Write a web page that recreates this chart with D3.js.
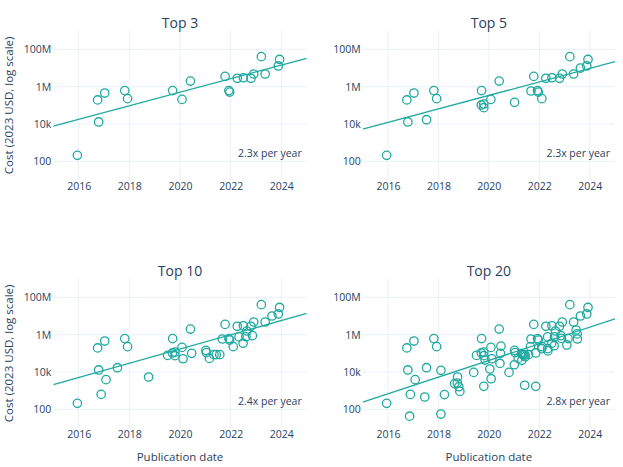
<!DOCTYPE html>
<html>
<head>
<meta charset="utf-8">
<script src="https://cdn.jsdelivr.net/npm/d3@7/dist/d3.min.js"></script>
<style>
  html, body { margin: 0; padding: 0; background: #fff; }
  svg { display: block; font-family: "Open Sans", "Noto Sans", sans-serif; }
</style>
</head>
<body>
<svg id="chart" width="623" height="467"></svg>
<script>
// ---- Data (publication year as decimal, cost in 2023 USD) ----
const panelTitles = ["Top 3", "Top 5", "Top 10", "Top 20"];
const growthLabels = ["2.3x per year", "2.3x per year", "2.4x per year", "2.8x per year"];

const top3 = [
  [2015.95, 210], [2016.75, 195000], [2016.79, 12900], [2017.03, 457000],
  [2017.82, 617000], [2017.93, 229000], [2019.71, 617000], [2020.08, 209000],
  [2020.41, 2000000], [2021.78, 3550000], [2021.93, 617000], [2021.96, 513000],
  [2022.26, 2820000], [2022.50, 3020000], [2022.80, 2820000], [2022.91, 4790000],
  [2023.21, 40700000], [2023.36, 4790000], [2023.88, 12900000], [2023.93, 28800000]
];
const top5Extra = [
  [2017.53, 17000], [2019.70, 105000], [2019.80, 117000], [2019.80, 75000],
  [2021.02, 145000], [2021.67, 589000], [2022.10, 229000], [2023.63, 10000000]
];
const top10Extra = [
  [2016.89, 630], [2017.08, 3900], [2018.76, 5400], [2019.51, 77600],
  [2020.12, 51300], [2020.46, 100000], [2021.04, 110000], [2021.16, 53700],
  [2021.34, 85000], [2021.43, 85000], [2021.57, 85000], [2022.33, 759000],
  [2022.49, 347000], [2022.60, 776000], [2022.64, 1580000], [2022.86, 891000]
];
const top20Extra = [
  [2016.86, 43], [2017.46, 457], [2018.10, 12300], [2018.10, 56],
  [2018.24, 617], [2018.64, 2400], [2018.75, 2570], [2018.81, 1620],
  [2018.85, 912], [2019.40, 9550], [2019.80, 1700], [2019.85, 43700],
  [2020.04, 14500], [2020.09, 4370], [2020.48, 245000], [2020.44, 28800],
  [2020.80, 9550], [2021.01, 24500], [2021.30, 95500], [2021.31, 42700],
  [2021.38, 81300], [2021.44, 66100], [2021.42, 1950], [2021.65, 229000],
  [2021.86, 105000], [2021.86, 1700], [2022.10, 178000], [2022.33, 178000],
  [2022.34, 135000], [2022.59, 257000], [2022.88, 631000], [2023.09, 282000],
  [2023.14, 617000], [2023.46, 1780000], [2023.50, 1100000], [2023.51, 589000]
];
const top5 = top3.concat(top5Extra);
const top10 = top5.concat(top10Extra);
const top20 = top10.concat(top20Extra);
const panelData = [top3, top5, top10, top20];

// Trend lines: cost at start (2015) and end (2025) of x range
const fitYears = [2015, 2025];
const fitStart = [7800, 5250, 2140, 245];
const fitEnd = [33100000, 21900000, 13800000, 7080000];

const xTicks = [2016, 2018, 2020, 2022, 2024];
const yTicks = [100, 10000, 1000000, 100000000];
const yTickLabels = ["100", "10k", "1M", "100M"];
const xDomain = [2015, 2025];
const yDomain = [10, 1e9];
const growthLabelY = 290;

// ---- Layout ----
const svg = d3.select("#chart");
const color = "#1fa9a0";
const textColor = "#2a3f5f";
const gridColor = "#ebf0f8";
const cols = [[53.3, 306.7], [362.7, 615]];
const rows = [[30.7, 180], [278.7, 428]];
const fontFam = '"Open Sans", sans-serif';

panelData.forEach((data, i) => {
  const c = cols[i % 2], r = rows[Math.floor(i / 2)];
  const x = d3.scaleLinear().domain(xDomain).range(c);
  const y = d3.scaleLog().domain(yDomain).range([r[1], r[0]]);
  const g = svg.append("g");

  // grid
  g.selectAll(".gx").data(xTicks).enter().append("line")
    .attr("x1", d => x(d)).attr("x2", d => x(d))
    .attr("y1", r[0]).attr("y2", r[1])
    .attr("stroke", gridColor).attr("stroke-width", 1);
  g.selectAll(".gy").data(yTicks).enter().append("line")
    .attr("x1", c[0]).attr("x2", c[1])
    .attr("y1", d => y(d)).attr("y2", d => y(d))
    .attr("stroke", gridColor).attr("stroke-width", 1);

  // axes (labels only)
  const xAxis = d3.axisBottom(x).tickValues(xTicks).tickFormat(d3.format("d")).tickSize(0).tickPadding(2.5);
  const xg = g.append("g").attr("transform", `translate(0,${r[1]})`).call(xAxis);
  const yAxis = d3.axisLeft(y).tickValues(yTicks).tickFormat((d, j) => yTickLabels[j]).tickSize(0).tickPadding(2);
  const yg = g.append("g").attr("transform", `translate(${c[0]},0)`).call(yAxis);
  [xg, yg].forEach(a => {
    a.select(".domain").remove();
    a.selectAll("text").attr("fill", textColor).style("font-size", "10.5px")
      .style("font-family", fontFam);
  });

  // clip
  const clipId = "clip" + i;
  svg.append("clipPath").attr("id", clipId).append("rect")
    .attr("x", c[0]).attr("y", r[0]).attr("width", c[1] - c[0]).attr("height", r[1] - r[0]);

  // trend line
  g.append("line").attr("clip-path", `url(#${clipId})`)
    .attr("x1", x(fitYears[0])).attr("y1", y(fitStart[i]))
    .attr("x2", x(fitYears[1])).attr("y2", y(fitEnd[i]))
    .attr("stroke", color).attr("stroke-width", 1.3);

  // points
  g.append("g").selectAll("circle").data(data).enter().append("circle")
    .attr("cx", d => x(d[0])).attr("cy", d => y(d[1])).attr("r", 4.2)
    .attr("fill", "none").attr("stroke", color).attr("stroke-width", 1.3);

  // title
  g.append("text").attr("x", (c[0] + c[1]) / 2).attr("y", r[0] - 8)
    .attr("text-anchor", "middle").attr("dominant-baseline", "central")
    .attr("fill", textColor).style("font-size", "14px").text(panelTitles[i]);

  // growth annotation
  g.append("text").attr("x", x(xDomain[1]) - 5).attr("y", y(growthLabelY))
    .attr("text-anchor", "end").attr("dominant-baseline", "central")
    .attr("fill", textColor).style("font-size", "10.5px").text(growthLabels[i]);

  // axis titles
  if (i % 2 === 0) {
    const cy = (r[0] + r[1]) / 2;
    g.append("text").attr("transform", `translate(8,${cy}) rotate(-90)`)
      .attr("text-anchor", "middle").attr("dominant-baseline", "central")
      .attr("fill", textColor).style("font-size", "11.5px").text("Cost (2023 USD, log scale)");
  }
  if (i >= 2) {
    g.append("text").attr("x", (c[0] + c[1]) / 2).attr("y", 456)
      .attr("text-anchor", "middle").attr("dominant-baseline", "central")
      .attr("fill", textColor).style("font-size", "11.5px").text("Publication date");
  }
});
</script>
</body>
</html>
